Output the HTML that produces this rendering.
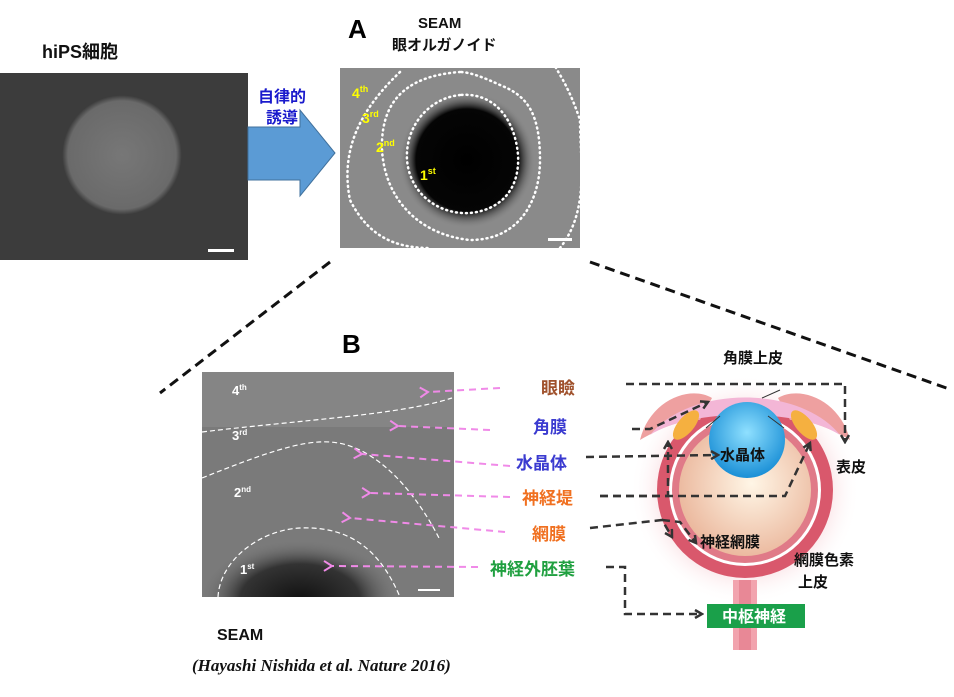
<!DOCTYPE html>
<html><head><meta charset="utf-8"><style>
body{margin:0;background:#fff;}
svg text{font-family:"Liberation Sans","Noto Sans CJK JP",sans-serif;font-weight:bold;}
</style></head><body>
<svg width="954" height="692" viewBox="0 0 954 692" xmlns="http://www.w3.org/2000/svg">
<defs>
<clipPath id="cB"><rect x="202" y="372" width="252" height="225"/></clipPath>
<clipPath id="cA"><rect x="340" y="68" width="240" height="180"/></clipPath>
<radialGradient id="col" cx="0.5" cy="0.5" r="0.5"><stop offset="0" stop-color="#777"/><stop offset="0.9" stop-color="#6a6a6a"/><stop offset="1" stop-color="#3a3a3a"/></radialGradient>
<radialGradient id="dark" cx="0.5" cy="0.5" r="0.5"><stop offset="0" stop-color="#000"/><stop offset="0.75" stop-color="#050505"/><stop offset="1" stop-color="#888" stop-opacity="0"/></radialGradient>
<radialGradient id="darkB" cx="0.5" cy="0.5" r="0.5"><stop offset="0" stop-color="#111"/><stop offset="0.6" stop-color="#333"/><stop offset="1" stop-color="#777" stop-opacity="0"/></radialGradient>
<radialGradient id="glow" cx="0.5" cy="0.5" r="0.5"><stop offset="0.6" stop-color="#f6c9cf"/><stop offset="1" stop-color="#fff" stop-opacity="0"/></radialGradient>
<radialGradient id="ball" cx="0.55" cy="0.45" r="0.6"><stop offset="0" stop-color="#fff6e6"/><stop offset="1" stop-color="#eab59a"/></radialGradient>
<radialGradient id="lens" cx="0.5" cy="0.4" r="0.6"><stop offset="0" stop-color="#8fe0ff"/><stop offset="1" stop-color="#1a8fd6"/></radialGradient>
<marker id="ak" markerWidth="10" markerHeight="10" refX="8" refY="5" orient="auto" markerUnits="userSpaceOnUse"><path d="M1,1 L8,5 L1,9" fill="none" stroke="#333" stroke-width="2.5"/></marker>
<marker id="ap" markerWidth="12" markerHeight="12" refX="2" refY="6" orient="auto" markerUnits="userSpaceOnUse"><path d="M10,1 L2,6 L10,11" fill="none" stroke="#f08ae8" stroke-width="2"/></marker>
</defs>

<text x="42" y="58" font-size="18" fill="#111">hiPS細胞</text>
<rect x="0" y="73" width="248" height="187" fill="#3c3c3c"/>
<circle cx="122" cy="155" r="60" fill="url(#col)"/>
<rect x="208" y="249" width="26" height="3" fill="#fff"/>

<path d="M248,127 L300,127 L300,110 L335,153 L300,196 L300,180 L248,180Z" fill="#5b9bd5" stroke="#41719c" stroke-width="1"/>
<text x="258" y="102" font-size="16" fill="#1a1acc">自律的</text>
<text x="266" y="123" font-size="16" fill="#1a1acc">誘導</text>

<text x="348" y="38" font-size="26" fill="#000">A</text>
<text x="418" y="28" font-size="15" fill="#111">SEAM</text>
<text x="392" y="50" font-size="15" fill="#111">眼オルガノイド</text>
<g clip-path="url(#cA)">
<rect x="340" y="68" width="240" height="180" fill="#8a8a8a"/>
<circle cx="467" cy="160" r="68" fill="url(#dark)"/>
<g fill="none" stroke="#fff" stroke-width="2.5" stroke-dasharray="1,4" stroke-linecap="round">
<path d="M400,72 C360,110 340,150 350,200 C370,240 400,248 430,248 M560,248 C590,210 580,160 580,120 C570,90 560,75 556,68"/>
<path d="M460,72 C420,75 380,90 382,150 C385,200 420,235 470,240 C520,240 540,200 540,160 C540,110 525,95 500,85 C485,78 470,72 460,72Z"/>
<path d="M460,95 C430,98 405,125 407,160 C410,195 440,215 470,213 C500,210 520,190 518,155 C515,120 495,92 460,95Z"/>
</g>
</g>
<rect x="548" y="238" width="24" height="3" fill="#fff"/>
<g fill="#ffff00" font-size="14"><text x="352" y="98">4<tspan font-size="9" dy="-6">th</tspan></text><text x="362" y="123">3<tspan font-size="9" dy="-6">rd</tspan></text><text x="376" y="152">2<tspan font-size="9" dy="-6">nd</tspan></text><text x="420" y="180">1<tspan font-size="9" dy="-6">st</tspan></text></g>

<g stroke="#111" stroke-width="3" stroke-dasharray="10,6" fill="none"><path d="M330,262 L160,393"/><path d="M590,262 L952,390"/></g>

<text x="342" y="353" font-size="26" fill="#000">B</text>
<g clip-path="url(#cB)">
<rect x="202" y="372" width="252" height="225" fill="#7a7a7a"/>
<ellipse cx="300" cy="600" rx="100" ry="60" fill="url(#darkB)"/>
<rect x="202" y="372" width="252" height="55" fill="#8c8c8c" opacity="0.6"/>
<g fill="none" stroke="#fff" stroke-width="1.2" stroke-dasharray="5,3"><path d="M202,432 C300,420 400,415 452,398"/><path d="M202,478 C260,455 300,440 330,442 C380,445 420,500 440,540"/><path d="M218,597 C220,560 260,530 300,528 C350,526 380,550 400,597"/></g>
</g>
<rect x="418" y="589" width="22" height="2" fill="#fff"/>
<g fill="#fff" font-size="13"><text x="232" y="395">4<tspan font-size="8" dy="-5">th</tspan></text><text x="232" y="440">3<tspan font-size="8" dy="-5">rd</tspan></text><text x="234" y="497">2<tspan font-size="8" dy="-5">nd</tspan></text><text x="240" y="574">1<tspan font-size="8" dy="-5">st</tspan></text></g>

<g stroke="#f08ae8" stroke-width="2" stroke-dasharray="7,5" fill="none">
<path d="M500,388 L428,392" marker-end="url(#ap)"/>
<path d="M490,430 L398,426" marker-end="url(#ap)"/>
<path d="M510,466 L362,454" marker-end="url(#ap)"/>
<path d="M510,497 L370,493" marker-end="url(#ap)"/>
<path d="M505,532 L350,518" marker-end="url(#ap)"/>
<path d="M478,567 L332,566" marker-end="url(#ap)"/>
</g>
<g font-size="17">
<text x="541" y="394" fill="#a0522d">眼瞼</text>
<text x="533" y="433" fill="#3b3bd0">角膜</text>
<text x="516" y="469" fill="#3b3bd0">水晶体</text>
<text x="522" y="504" fill="#f07020">神経堤</text>
<text x="532" y="540" fill="#f07020">網膜</text>
<text x="490" y="575" fill="#20a040">神経外胚葉</text>
</g>

<!-- eye -->
<circle cx="745" cy="490" r="115" fill="url(#glow)"/>
<rect x="733" y="580" width="24" height="70" fill="#f2a3ae"/>
<rect x="739" y="580" width="12" height="70" fill="#e88896"/>
<circle cx="745" cy="490" r="88" fill="#d9586c"/>
<circle cx="745" cy="490" r="76" fill="#fff"/>
<circle cx="745" cy="490" r="73" fill="#e07a88"/>
<circle cx="745" cy="490" r="66" fill="url(#ball)"/>
<path d="M640,440 C650,400 690,385 712,398 L700,420 C680,420 660,428 640,440Z" fill="#eea0a0"/>
<path d="M850,440 C840,400 800,385 778,398 L790,420 C810,420 830,428 850,440Z" fill="#eea0a0"/>
<path d="M650,435 C690,385 800,385 840,435 C800,408 690,408 650,435Z" fill="#f3b6d6"/>
<ellipse cx="686" cy="425" rx="8" ry="18" transform="rotate(40 686 425)" fill="#f5b040"/>
<ellipse cx="804" cy="425" rx="8" ry="18" transform="rotate(-40 804 425)" fill="#f5b040"/>
<circle cx="747" cy="440" r="38" fill="url(#lens)"/>
<path d="M720,416 L706,428 M768,416 L784,428" stroke="#333" stroke-width="1"/>
<path d="M780,390 L762,398" stroke="#333" stroke-width="1"/>
<g font-size="15" fill="#111">
<text x="723" y="363">角膜上皮</text>
<text x="720" y="460">水晶体</text>
<text x="836" y="472">表皮</text>
<text x="700" y="547">神経網膜</text>
<text x="794" y="565">網膜色素</text>
<text x="798" y="587">上皮</text>
</g>
<rect x="707" y="604" width="98" height="24" fill="#1aa04a"/>
<text x="722" y="622" font-size="16" fill="#fff">中枢神経</text>

<g stroke="#333" stroke-width="2.5" stroke-dasharray="8,5" fill="none">
<path d="M626,384 L845,384 L845,442" marker-end="url(#ak)"/>
<path d="M632,429 L650,429 L708,402" marker-end="url(#ak)"/>
<path d="M586,457 L718,455" marker-end="url(#ak)"/>
<path d="M600,496 L785,496 L810,443" marker-end="url(#ak)"/>
<path d="M600,496 L668,496 L668,442" marker-end="url(#ak)"/>
<path d="M590,528 L662,520 L672,537" marker-end="url(#ak)"/>
<path d="M662,520 L680,522 L696,543" marker-end="url(#ak)"/>
<path d="M606,567 L625,567 L625,614 L702,614" marker-end="url(#ak)"/>
</g>

<text x="217" y="640" font-size="16" fill="#111">SEAM</text>
<text x="192" y="671" font-size="17" fill="#111" style="font-family:'Liberation Serif',serif;font-style:italic">(Hayashi Nishida et al. Nature 2016)</text>
</svg>
</body></html>
